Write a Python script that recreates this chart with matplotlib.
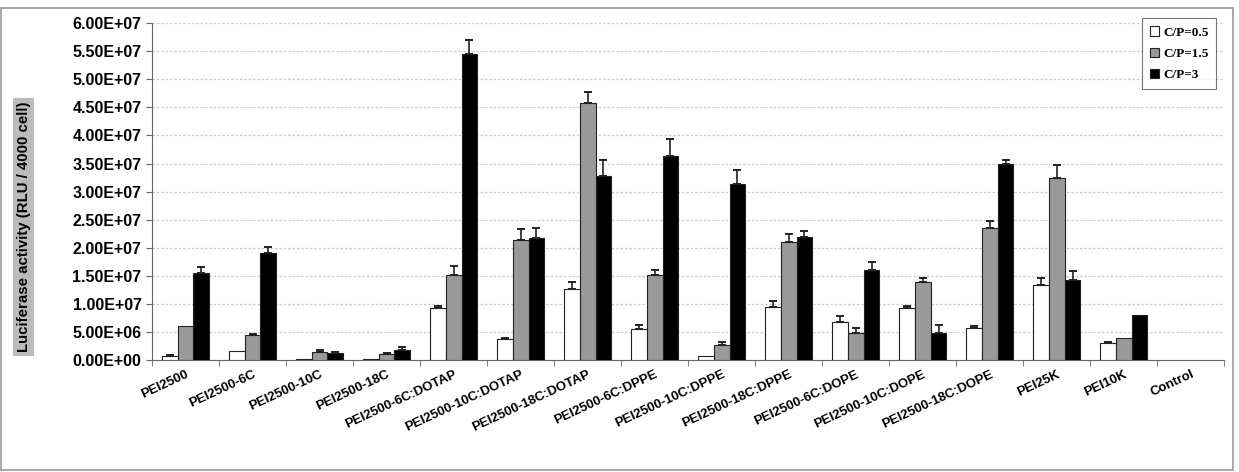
import matplotlib
matplotlib.use("Agg")
import matplotlib.pyplot as plt
from matplotlib.patches import Rectangle
import numpy as np

categories = ["PEI2500", "PEI2500-6C", "PEI2500-10C", "PEI2500-18C",
              "PEI2500-6C:DOTAP", "PEI2500-10C:DOTAP", "PEI2500-18C:DOTAP",
              "PEI2500-6C:DPPE", "PEI2500-10C:DPPE", "PEI2500-18C:DPPE",
              "PEI2500-6C:DOPE", "PEI2500-10C:DOPE", "PEI2500-18C:DOPE",
              "PEI25K", "PEI10K", "Control"]

# values in units of 1e7 RLU
cp05 = [0.08, 0.17, 0.02, 0.02, 0.92, 0.38, 1.27, 0.55, 0.08, 0.95, 0.68, 0.92, 0.58, 1.33, 0.30, 0.0]
cp05_err = [0.02, 0.0, 0.0, 0.0, 0.05, 0.02, 0.12, 0.07, 0.0, 0.10, 0.10, 0.04, 0.02, 0.13, 0.03, 0.0]
cp15 = [0.60, 0.45, 0.15, 0.11, 1.52, 2.13, 4.58, 1.52, 0.27, 2.10, 0.48, 1.40, 2.35, 3.25, 0.40, 0.0]
cp15_err = [0.0, 0.02, 0.03, 0.02, 0.15, 0.20, 0.20, 0.08, 0.06, 0.15, 0.10, 0.06, 0.12, 0.22, 0.0, 0.0]
cp3 = [1.55, 1.90, 0.12, 0.18, 5.45, 2.17, 3.27, 3.63, 3.13, 2.20, 1.60, 0.48, 3.50, 1.43, 0.80, 0.0]
cp3_err = [0.10, 0.12, 0.02, 0.05, 0.25, 0.18, 0.30, 0.30, 0.25, 0.10, 0.15, 0.15, 0.07, 0.16, 0.0, 0.0]

series = [("C/P=0.5", cp05, cp05_err, "white"),
          ("C/P=1.5", cp15, cp15_err, "#999999"),
          ("C/P=3", cp3, cp3_err, "black")]

plt.rcParams["font.family"] = ["Liberation Sans", "DejaVu Sans"]

fig = plt.figure(figsize=(12.39, 4.72), dpi=100)
ax = fig.add_axes([0.1227, 0.237, 0.8655, 0.714])

x = np.arange(len(categories))
w = 0.235
for i, (name, vals, errs, color) in enumerate(series):
    v = np.array(vals) * 1e7
    e = np.array(errs) * 1e7
    pos = x + (i - 1) * w
    lw = [0.8 if val > 0 else 0 for val in vals]
    ax.bar(pos, v, w, color=color, edgecolor="#222222", linewidth=lw,
           label=name, zorder=3)
    m = e > 0
    ax.errorbar(pos[m], v[m], yerr=[np.zeros(m.sum()), e[m]], fmt="none",
                ecolor="#222222", capsize=3, elinewidth=1.2, capthick=1.4, zorder=4)

ax.set_xlim(-0.5, len(categories) - 0.5)
ax.set_ylim(0, 6e7)
yt = np.arange(0, 6.01e7, 5e6)
labels = []
for t in yt:
    ex = int(np.floor(np.log10(t))) if t > 0 else 0
    labels.append("%.2fE+%02d" % (t / 10 ** ex, ex))
ax.set_yticks(yt)
ax.set_yticklabels(labels, fontsize=11.5, fontweight="bold")
ax.yaxis.grid(True, color="#cccccc", linestyle=(0, (2, 1.5)), linewidth=0.9, zorder=0)

ax.set_xticks(x)
ax.set_xticklabels(categories, rotation=25, ha="right", rotation_mode="anchor",
                   fontsize=9.5, fontweight="bold")
ax.tick_params(axis="x", which="major", length=0, pad=6)
ax.set_xticks(np.arange(-0.5, len(categories)), minor=True)
ax.tick_params(axis="x", which="minor", length=4, color="#666666", direction="out")
ax.tick_params(axis="y", length=4, color="#666666", direction="out")

for s in ["top", "right"]:
    ax.spines[s].set_visible(False)
for s in ["left", "bottom"]:
    ax.spines[s].set_color("#666666")

fig.text(0.019, 0.52, "Luciferase activity (RLU / 4000 cell)", rotation=90,
         ha="center", va="center", fontsize=10.8, fontweight="bold",
         bbox=dict(boxstyle="square,pad=0.25", facecolor="#bbbbbb", edgecolor="none"))

leg = ax.legend(loc="upper right", bbox_to_anchor=(0.987, 0.975), bbox_transform=fig.transFigure,
                prop={"family": "Liberation Serif", "weight": "bold", "size": 9.5},
                frameon=True, fancybox=False, edgecolor="#555555", handlelength=0.7,
                handleheight=0.7, handletextpad=0.3, labelspacing=0.7,
                borderpad=0.6)
leg.get_frame().set_linewidth(0.8)

fig.patches.append(Rectangle((0.001, 0.004), 0.994, 0.98, transform=fig.transFigure,
                             fill=False, edgecolor="#999999", linewidth=1.2))

fig.savefig("out.png", dpi=100)
